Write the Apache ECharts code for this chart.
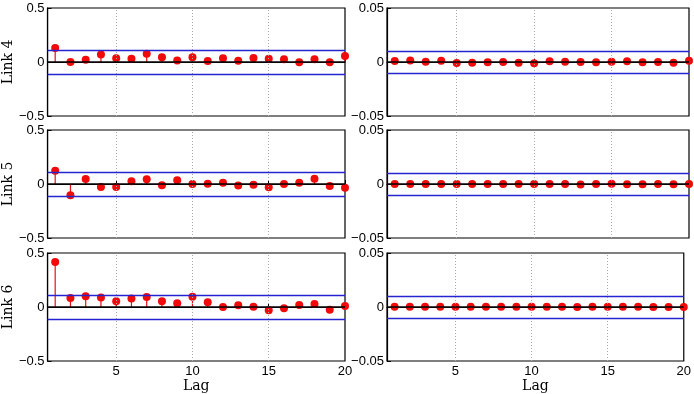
<!DOCTYPE html>
<html>
<head>
<meta charset="utf-8">
<script src="https://cdn.jsdelivr.net/npm/echarts@6/dist/echarts.min.js"></script>
<style>
  html, body { margin: 0; padding: 0; background: #fff; }
  #chart { width: 694px; height: 394px; }
</style>
</head>
<body>
<div id="chart"></div>
<script>
// lags and autocorrelation values
const lags = [1, 2, 3, 4, 5, 6, 7, 8, 9, 10, 11, 12, 13, 14, 15, 16, 17, 18, 19, 20]
const link4Left = [0.13, 0.0, 0.02, 0.07, 0.035, 0.03, 0.077, 0.045, 0.015, 0.045, 0.01, 0.035, 0.012, 0.037, 0.03, 0.025, -0.003, 0.025, -0.003, 0.055]
const link4Right = [0.001, 0.0015, 0.0003, 0.0012, -0.001, -0.0006, -0.0003, 0.0, -0.0006, -0.0012, 0.0006, 0.0003, 0.0, -0.0003, 0.0003, 0.0006, -0.0003, 0.0, -0.0006, 0.0012]
const link5Left = [0.123, -0.105, 0.046, -0.028, -0.028, 0.025, 0.043, -0.012, 0.034, 0.0, 0.003, 0.012, -0.015, -0.006, -0.03, 0.0, 0.012, 0.049, -0.018, -0.034]
const link5Right = [0.0, 0.0, 0.0, 0.0, 0.0, 0.0, 0.0, 0.0, 0.0, 0.0, 0.0, 0.0, -0.0004, 0.0, 0.0003, -0.0002, -0.0002, 0.0, -0.0002, 0.0]
const link6Left = [0.416, 0.084, 0.1, 0.087, 0.053, 0.078, 0.093, 0.053, 0.034, 0.096, 0.043, 0.0, 0.016, 0.003, -0.031, -0.012, 0.019, 0.028, -0.025, 0.009]
const link6Right = [0.0003, 0.0002, 0.0002, 0.0002, 0.0003, 0.0003, 0.0002, 0.0002, 0.0002, 0.0002, 0.0002, 0.0002, 0.0001, 0.0002, 0.0003, 0.0003, 0.0002, 0.0001, 0.0001, 0.0001]
const confLeft = 0.11
const confRight = 0.011
const rowLabels = ['Link 4', 'Link 5', 'Link 6']
const xTicks = [5, 10, 15, 20]
const gridX = [5, 10, 15]

const panels = [
  { data: link4Left, conf: confLeft, lim: 0.5, col: 0, row: 0 },
  { data: link4Right, conf: confRight, lim: 0.05, col: 1, row: 0 },
  { data: link5Left, conf: confLeft, lim: 0.5, col: 0, row: 1 },
  { data: link5Right, conf: confRight, lim: 0.05, col: 1, row: 1 },
  { data: link6Left, conf: confLeft, lim: 0.5, col: 0, row: 2 },
  { data: link6Right, conf: confRight, lim: 0.05, col: 1, row: 2 },
]

const lefts = [43, 387]
const tops = [8, 130, 253]
const tickFont = 'Liberation Sans, Arial, sans-serif'
const labelFont = 'DejaVu Serif, Liberation Serif, serif'

const grid = []
const xAxis = []
const yAxis = []
const series = []

panels.forEach((p, i) => {
  grid.push({
    left: lefts[p.col], top: tops[p.row], width: 302, height: 108,
    show: true, borderColor: '#000', borderWidth: 1.2, backgroundColor: '#fff',
  })
  const bottomRow = p.row === 2
  xAxis.push({
    gridIndex: i, type: 'value', min: 0.5, max: 20,
    name: bottomRow ? 'Lag' : '',
    nameLocation: 'middle', nameGap: 17,
    nameTextStyle: { fontFamily: labelFont, fontSize: 14, color: '#000' },
    axisLine: { show: true, lineStyle: { color: '#000', width: 1.2 } },
    axisTick: { show: true, inside: true, length: 4, customValues: xTicks, lineStyle: { color: '#000' } },
    axisLabel: {
      show: bottomRow, customValues: xTicks, margin: 4,
      fontFamily: tickFont, fontSize: 13, color: '#000',
    },
    splitLine: { show: false },
  })
  yAxis.push({
    gridIndex: i, type: 'value', min: -p.lim, max: p.lim, interval: p.lim,
    name: p.col === 0 ? rowLabels[p.row] : '',
    nameLocation: 'middle', nameRotate: 90, nameGap: 21,
    nameTextStyle: { fontFamily: labelFont, fontSize: 14, color: '#000' },
    axisLine: { show: true, lineStyle: { color: '#000', width: 1.2 } },
    axisTick: { show: true, inside: true, length: 4, lineStyle: { color: '#000' } },
    axisLabel: {
      margin: 3, fontFamily: tickFont, fontSize: 13, color: '#000',
      formatter: (v) => (v === 0 ? '0' : String(v).replace('-', '\u2212')),
    },
    splitLine: { show: false },
  })

  const pts = lags.map((x, k) => [x, p.data[k]])

  // stems
  series.push({
    type: 'custom', xAxisIndex: i, yAxisIndex: i, data: pts, z: 3,
    renderItem: (params, api) => {
      const a = api.coord([api.value(0), 0])
      const b = api.coord([api.value(0), api.value(1)])
      return {
        type: 'line',
        shape: { x1: a[0], y1: a[1], x2: b[0], y2: b[1] },
        style: { stroke: '#e81010', lineWidth: 1.2 },
      }
    },
    markLine: {
      silent: true, symbol: 'none', label: { show: false }, animation: false,
      data: [
        ...gridX.map((g) => ({ xAxis: g, lineStyle: { color: '#aaa', type: [1, 2], width: 1 } })),
        { yAxis: p.conf, lineStyle: { color: '#2424d0', type: 'solid', width: 1.4 } },
        { yAxis: -p.conf, lineStyle: { color: '#2424d0', type: 'solid', width: 1.4 } },
        { yAxis: 0, lineStyle: { color: '#000', type: 'solid', width: 1.5 } },
      ],
    },
  })
  // dots
  series.push({
    type: 'scatter', xAxisIndex: i, yAxisIndex: i, data: pts, z: 4,
    symbol: 'circle', symbolSize: 8, clip: false,
    itemStyle: { color: '#f00a0a', opacity: 1, borderWidth: 0 },
  })
})

const myChart = echarts.init(document.getElementById('chart'))
myChart.setOption({
  animation: false,
  grid, xAxis, yAxis, series,
})
</script>
</body>
</html>
